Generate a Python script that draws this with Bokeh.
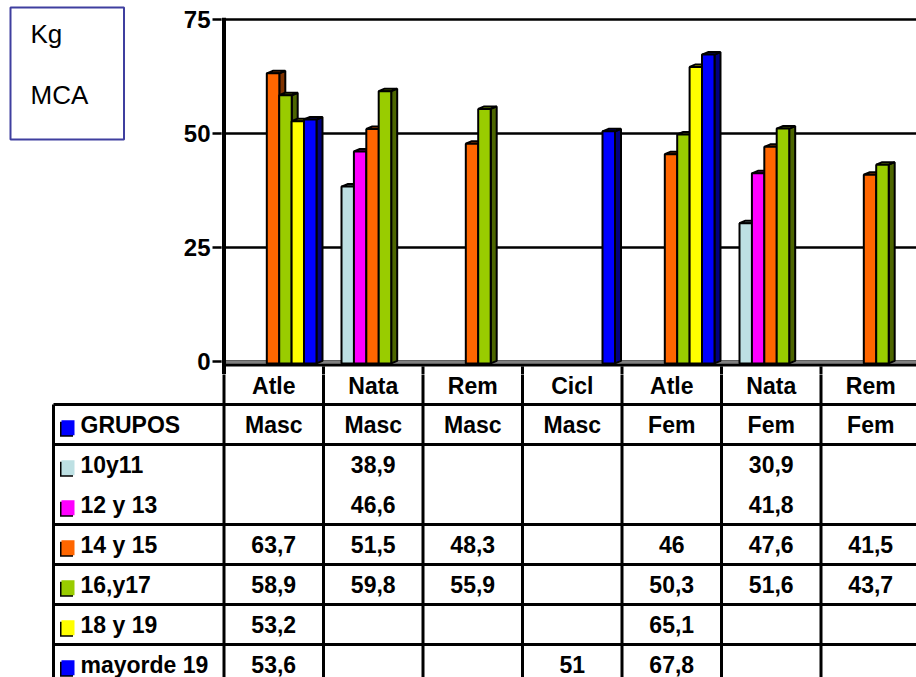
from bokeh.plotting import figure
from bokeh.layouts import row, column
from bokeh.models import Range1d, FixedTicker
from bokeh.core.properties import value
from bokeh.embed import file_html
from bokeh.resources import INLINE

# ---- data -------------------------------------------------------------
sports = ["Atle", "Nata", "Rem", "Cicl", "Atle", "Nata", "Rem"]
genders = ["Masc", "Masc", "Masc", "Masc", "Fem", "Fem", "Fem"]
group_names = ["10y11", "12 y 13", "14 y 15", "16,y17", "18 y 19", "mayorde 19"]
g10_11 = [None, 38.9, None, None, None, 30.9, None]
g12_13 = [None, 46.6, None, None, None, 41.8, None]
g14_15 = [63.7, 51.5, 48.3, None, 46.0, 47.6, 41.5]
g16_17 = [58.9, 59.8, 55.9, None, 50.3, 51.6, 43.7]
g18_19 = [53.2, None, None, None, 65.1, None, None]
g19_plus = [53.6, None, None, 51.0, 67.8, None, None]
y_ticks = [0, 25, 50, 75]
table_title = "GRUPOS"
unit_lines = ["Kg", "MCA"]

series = [g10_11, g12_13, g14_15, g16_17, g18_19, g19_plus]
front_colors = ["#BDE0E3", "#FF00FF", "#FF6600", "#99CC00", "#FFFF00", "#0000FF"]
top_colors = ["#97B3B6", "#CC00CC", "#CC5200", "#7AA300", "#CCCC00", "#0000CC"]
side_colors = ["#5E7072", "#800080", "#803300", "#4D6600", "#808000", "#000080"]
title_color = "#0000FF"

# ---- page geometry (pixels) -----------------------------------------
W, H = 916, 677
SPLIT = 374          # boundary between chart and table blocks
BOX_W = 170          # width of the units box block
X0_PX = 223.5        # left edge of first category
CAT_PX = 99.5        # width of one category
Y0_PX = 361.3        # value 0
UNIT_PX = 4.568      # pixels per kg
ROW0_PX = 364        # top of first table row
ROW_PX = 40          # table row height
FRAME_LEFT = 221

FONT = value("Liberation Sans")
TXT = "23px"

def px_to_x(px):
    return (px - X0_PX) / CAT_PX

# ---- units box ---------------------------------------------------------
box = figure(width=BOX_W, height=SPLIT, output_backend="svg", toolbar_location=None,
             x_range=Range1d(0, BOX_W), y_range=Range1d(SPLIT, 0),
             x_axis_location=None, y_axis_location=None,
             min_border=0, outline_line_color=None)
box.grid.visible = False
box.quad(left=[10], right=[123.5], top=[7], bottom=[139], fill_color="white",
         line_color="#3F3F9F", line_width=2)
box.text(x=[30, 30], y=[33, 94.5], text=unit_lines, text_font=FONT,
         text_font_size="26px", text_baseline="middle", text_color="black")

# ---- 3-D column chart ---------------------------------------------------
chart = figure(width=W - BOX_W, height=SPLIT, output_backend="svg", toolbar_location=None,
               x_range=Range1d(px_to_x(FRAME_LEFT), px_to_x(W)),
               y_range=Range1d(-(SPLIT - Y0_PX) / UNIT_PX, Y0_PX / UNIT_PX),
               x_axis_location=None, y_axis_location="left",
               min_border_left=FRAME_LEFT - BOX_W, min_border_right=0,
               min_border_top=0, min_border_bottom=0, outline_line_color=None)
chart.xgrid.visible = False
chart.ygrid.ticker = FixedTicker(ticks=y_ticks)
chart.ygrid.grid_line_color = "black"
chart.ygrid.grid_line_width = 2.5
ax = chart.yaxis[0]
ax.ticker = FixedTicker(ticks=y_ticks)
ax.axis_line_color = None
ax.major_tick_out = 9
ax.major_tick_in = 0
ax.major_tick_line_width = 2.5
ax.minor_tick_out = 0
ax.minor_tick_in = 0
ax.major_label_standoff = 2
ax.major_label_text_font = "Liberation Sans"
ax.major_label_text_font_style = "bold"
ax.major_label_text_font_size = "24px"
ax.major_label_text_color = "black"

n_cat = len(sports)
y_bottom = -(SPLIT - Y0_PX) / UNIT_PX
floor_front = -0.35
# floor of the 3-D box
chart.quad(left=[0], right=[n_cat], bottom=[floor_front], top=[0.28],
           fill_color="#808080", line_color=None)
chart.quad(left=[0], right=[n_cat], bottom=[-1.03], top=[floor_front],
           fill_color="black", line_color=None)

# bars: front face, top face, right side face
slot0, slot_step, bar_w = 0.181, 0.1246, 0.1256
dx, dy = 6 / CAT_PX, 2.5 / UNIT_PX
for s, vals in enumerate(series):
    xs_side, ys_side, xs_top, ys_top = [], [], [], []
    lefts, rights, tops = [], [], []
    for i, v in enumerate(vals):
        if v is None:
            continue
        xl = i + slot0 + slot_step * s
        xr = xl + bar_w
        ft = v - dy
        xs_side.append([xr, xr, xr + dx, xr + dx])
        ys_side.append([floor_front, ft, v, floor_front + dy])
        xs_top.append([xl, xr, xr + dx, xl + dx])
        ys_top.append([ft, ft, v, v])
        lefts.append(xl)
        rights.append(xr)
        tops.append(ft)
    chart.patches(xs=xs_side, ys=ys_side, fill_color=side_colors[s],
                  line_color="black", line_width=2)
    chart.patches(xs=xs_top, ys=ys_top, fill_color=top_colors[s],
                  line_color="black", line_width=2)
    chart.quad(left=lefts, right=rights, top=tops, bottom=floor_front,
               fill_color=front_colors[s], line_color="black", line_width=2)

# value axis line and the cell borders under the floor
chart.segment(x0=[0], y0=[y_bottom], x1=[0], y1=[75.3], line_color="black", line_width=4)
chart.segment(x0=list(range(1, n_cat)), y0=[-1.0] * (n_cat - 1),
              x1=list(range(1, n_cat)), y1=[y_bottom] * (n_cat - 1),
              line_color="black", line_width=3)

# ---- data table ----------------------------------------------------------
n_rows = 2 + len(series)
table = figure(width=W, height=H - SPLIT, output_backend="svg", toolbar_location=None,
               x_range=Range1d(px_to_x(0), px_to_x(W)),
               y_range=Range1d((H - ROW0_PX) / ROW_PX, (SPLIT - ROW0_PX) / ROW_PX),
               x_axis_location=None, y_axis_location=None,
               min_border=0, outline_line_color=None)
table.grid.visible = False

x_border = px_to_x(53)
x_right = px_to_x(W) + 0.1
# horizontal rules (the two youngest groups share one cell)
h_rows = [1, 2, 4, 5, 6, 7]
table.segment(x0=[x_border] * len(h_rows), y0=h_rows, x1=[x_right] * len(h_rows), y1=h_rows,
              line_color="black", line_width=3)
# vertical rules
table.segment(x0=list(range(0, n_cat)), y0=[0.0] * n_cat,
              x1=list(range(0, n_cat)), y1=[n_rows + 1] * n_cat,
              line_color="black", line_width=3)
table.segment(x0=[x_border], y0=[1], x1=[x_border], y1=[n_rows + 1],
              line_color="black", line_width=3)

centers = [i + 0.5 for i in range(n_cat)]
table.text(x=centers, y=[0.53] * n_cat, text=sports, text_font=FONT, text_font_size=TXT,
           text_font_style="bold", text_align="center", text_baseline="middle")
table.text(x=centers, y=[1.5] * n_cat, text=genders, text_font=FONT, text_font_size=TXT,
           text_font_style="bold", text_align="center", text_baseline="middle")

# legend keys and row names
key_l, key_r = px_to_x(61), px_to_x(74)
key_rows = [1] + [2 + s for s in range(len(series))]
key_cols = [title_color] + front_colors
key_names = [table_title] + group_names
kh = 7.5 / ROW_PX
sh = 1.5 / CAT_PX
for r, c, name in zip(key_rows, key_cols, key_names):
    yc = r + 0.58
    table.quad(left=[key_l - sh], right=[key_r - sh], top=[yc - kh + 1.5 / ROW_PX],
               bottom=[yc + kh + 1.5 / ROW_PX], fill_color="black", line_color=None)
    table.quad(left=[key_l], right=[key_r], top=[yc - kh], bottom=[yc + kh],
               fill_color=c, line_color=None)
    table.text(x=[px_to_x(80)], y=[r + 0.5], text=[name], text_font=FONT, text_font_size=TXT,
               text_font_style="bold", text_align="left", text_baseline="middle")

# cell values
for s, vals in enumerate(series):
    xs, labels = [], []
    for i, v in enumerate(vals):
        if v is None:
            continue
        xs.append(i + 0.5)
        labels.append(f"{v:g}".replace(".", ","))
    table.text(x=xs, y=[2 + s + 0.5] * len(xs), text=labels, text_font=FONT,
               text_font_size=TXT, text_font_style="bold", text_align="center",
               text_baseline="middle")

layout = column(row(box, chart), table)
open("out.html", "w").write(file_html(layout, INLINE))
